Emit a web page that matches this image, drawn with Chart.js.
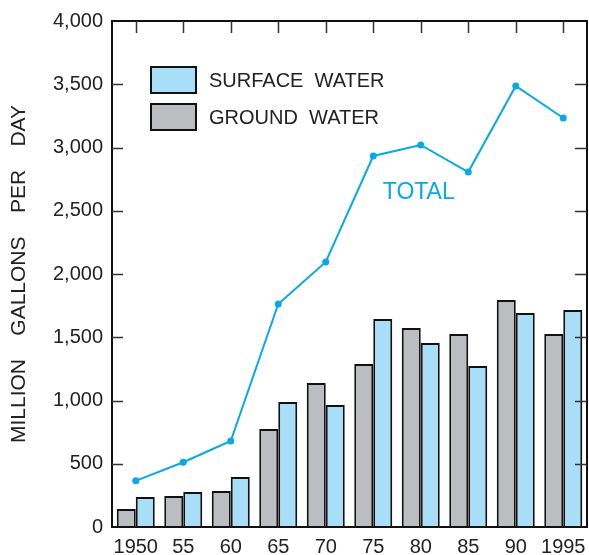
<!DOCTYPE html>
<html>
<head>
<meta charset="utf-8">
<script src="https://cdn.jsdelivr.net/npm/chart.js@4/dist/chart.umd.min.js"></script>
<style>
  html, body { margin: 0; padding: 0; background: #fff; overflow: hidden; }
  canvas { display: block; }
</style>
</head>
<body>
<canvas id="chart" width="591" height="555"></canvas>
<script>
// values, million gallons per day
const years = ['1950', '55', '60', '65', '70', '75', '80', '85', '90', '1995']
const groundWater = [142, 245, 285, 775, 1138, 1289, 1573, 1526, 1795, 1526]
const surfaceWater = [237, 277, 395, 988, 964, 1644, 1455, 1273, 1692, 1715]
const totalWater = [365, 512, 680, 1763, 2095, 2933, 3020, 2806, 3486, 3233]
const yTicks = [0, 500, 1000, 1500, 2000, 2500, 3000, 3500, 4000]

const FONT = '"Liberation Sans", Arial, sans-serif'
const LINE_BLUE = '#0aa8e4'
const INK = '#222222'

// frame, inward tick marks, legend and the TOTAL label
const framePlugin = {
    id: 'frame',
    afterDraw(chart) {
        const {ctx, chartArea: a, scales} = chart
        ctx.save()
        ctx.strokeStyle = '#111'
        ctx.lineWidth = 2
        ctx.strokeRect(a.left, a.top, a.right - a.left, a.bottom - a.top)

        ctx.lineWidth = 1.5
        ctx.strokeStyle = '#333'
        yTicks.slice(1, -1).forEach(v => {
            const y = Math.round(scales.y.getPixelForValue(v)) + 0.5
            ctx.beginPath()
            ctx.moveTo(a.left, y); ctx.lineTo(a.left + 11, y)
            ctx.moveTo(a.right - 12, y); ctx.lineTo(a.right, y)
            ctx.stroke()
        })
        years.forEach((_, i) => {
            const x = Math.round(scales.x.getPixelForValue(i)) + 0.5
            ctx.beginPath()
            ctx.moveTo(x, a.top); ctx.lineTo(x, a.top + 12)
            ctx.stroke()
        })

        // legend
        const items = [chart.data.datasets[1], chart.data.datasets[0]]
        items.forEach((ds, i) => {
            const bx = a.left + 39, by = a.top + 46 + i * 37
            ctx.fillStyle = ds.backgroundColor
            ctx.fillRect(bx, by, 45, 26)
            ctx.lineWidth = 2
            ctx.strokeStyle = '#111'
            ctx.strokeRect(bx, by, 45, 26)
            ctx.fillStyle = INK
            ctx.font = '20px ' + FONT
            ctx.textBaseline = 'middle'
            ctx.fillText(ds.label, bx + 58, by + 14)
        })

        // TOTAL label
        ctx.fillStyle = LINE_BLUE
        ctx.font = '23px ' + FONT
        ctx.textAlign = 'center'
        ctx.textBaseline = 'middle'
        ctx.fillText('TOTAL', scales.x.getPixelForValue(6) - 2, scales.y.getPixelForValue(2640))
        ctx.restore()
    }
}

new Chart(document.getElementById('chart'), {
    type: 'bar',
    data: {
        labels: years,
        datasets: [
            {
                label: 'GROUND  WATER',
                data: groundWater,
                backgroundColor: '#bcbdc1',
                borderColor: '#111',
                borderWidth: 2,
                categoryPercentage: 0.8,
                barPercentage: 1.0,
                order: 2
            },
            {
                label: 'SURFACE  WATER',
                data: surfaceWater,
                backgroundColor: '#a9def8',
                borderColor: '#111',
                borderWidth: 2,
                categoryPercentage: 0.8,
                barPercentage: 1.0,
                order: 2
            },
            {
                type: 'line',
                label: 'TOTAL',
                data: totalWater,
                borderColor: LINE_BLUE,
                backgroundColor: LINE_BLUE,
                borderWidth: 2,
                pointRadius: 3.5,
                pointBorderWidth: 0,
                tension: 0,
                order: 1
            }
        ]
    },
    options: {
        responsive: false,
        animation: false,
        layout: {padding: {top: 21, right: 2, left: 0, bottom: 0}},
        plugins: {
            legend: {display: false},
            tooltip: {enabled: false}
        },
        scales: {
            x: {
                offset: true,
                grid: {display: false, drawTicks: false},
                border: {display: false},
                ticks: {
                    color: INK,
                    font: {family: FONT, size: 20, lineHeight: 2.0},
                    padding: 0,
                    maxRotation: 0,
                    autoSkip: false
                },
                afterFit: s => { s.height = 28 }
            },
            y: {
                min: 0,
                max: 4000,
                afterBuildTicks: s => { s.ticks = yTicks.map(v => ({value: v})) },
                grid: {display: false, drawTicks: false},
                border: {display: false},
                ticks: {
                    color: INK,
                    font: {family: FONT, size: 20},
                    padding: 9,
                    callback: v => v.toLocaleString('en-US')
                },
                title: {
                    display: true,
                    text: 'MILLION    GALLONS    PER    DAY',
                    color: INK,
                    font: {family: FONT, size: 21},
                    padding: {top: 7, bottom: 0}
                },
                afterFit: s => { s.width = 112 }
            }
        }
    },
    plugins: [framePlugin]
})
</script>
</body>
</html>
